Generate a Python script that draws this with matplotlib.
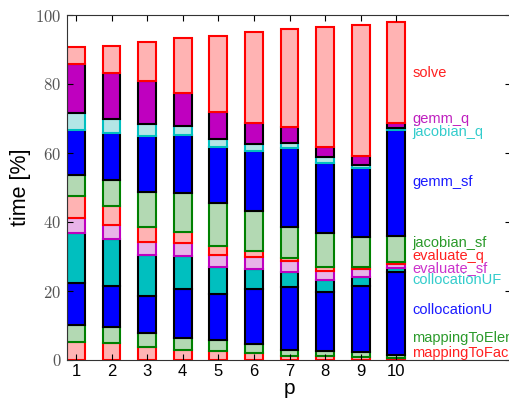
import numpy as np
import matplotlib
matplotlib.use("Agg")
from matplotlib import pyplot as plt
from matplotlib.ticker import FuncFormatter

plt.rcParams["mathtext.fontset"] = "cm"
plt.rcParams["font.family"] = ["Liberation Sans", "DejaVu Sans"]

p = [1, 2, 3, 4, 5, 6, 7, 8, 9, 10]

# cumulative top of each part (percent), bottom to top
mappingToFaces = [5.1, 4.8, 3.9, 2.9, 2.7, 1.9, 1.2, 1.2, 0.8, 0.5]
mappingToElements = [10.1, 9.5, 7.7, 6.5, 5.8, 4.6, 2.9, 2.7, 2.2, 1.4]
collocationU = [22.4, 21.5, 18.6, 20.6, 19.0, 20.5, 21.3, 19.8, 21.5, 25.6]
collocationUF = [36.9, 35.0, 30.4, 30.1, 27.1, 26.4, 25.6, 23.2, 24.0, 26.6]
evaluate_sf = [41.3, 39.1, 34.3, 34.0, 30.4, 29.9, 28.7, 25.9, 26.3, 27.8]
evaluate_q = [47.5, 44.6, 38.5, 37.2, 33.0, 31.6, 29.7, 26.9, 26.9, 28.5]
jacobian_sf = [53.6, 52.2, 48.7, 48.5, 45.4, 43.3, 38.5, 36.9, 35.7, 36.0]
gemm_sf = [66.7, 65.9, 65.0, 65.2, 61.8, 60.7, 61.5, 57.2, 55.6, 66.7]
jacobian_q = [71.5, 70.0, 68.3, 67.8, 64.0, 62.6, 62.8, 58.9, 56.5, 67.3]
gemm_q = [85.8, 83.1, 80.9, 77.3, 72.0, 68.6, 67.4, 61.8, 59.1, 68.6]
solve = [90.8, 91.1, 92.3, 93.4, 94.0, 95.0, 95.8, 96.6, 97.1, 98.1]

names = ["mappingToFaces", "mappingToElements", "collocationU", "collocationUF",
         "evaluate_sf", "evaluate_q", "jacobian_sf", "gemm_sf", "jacobian_q",
         "gemm_q", "solve"]
tops = [mappingToFaces, mappingToElements, collocationU, collocationUF,
        evaluate_sf, evaluate_q, jacobian_sf, gemm_sf, jacobian_q, gemm_q, solve]
label_y = [2.1, 6.3, 14.5, 23.2, 26.6, 30.2, 34.0, 51.7, 66.0, 69.9, 83.3]

light_red = "#ffb3b3"
light_green = "#b3d9b3"
faces = [light_red, light_green, "#0000ff", "#00bfbf", "#e8b3e8", light_red,
         light_green, "#0000ff", "#b3e6e6", "#bf00bf", light_red]
edges = ["#ff0000", "#008000", "black", "black", "#bf00bf", "#ff0000",
         "#008000", "black", "#00bfbf", "black", "#ff0000"]
text_colors = ["#ff2020", "#2a9a2a", "#1a1aff", "#33cccc", "#cc33cc", "#ff2020",
               "#2a9a2a", "#1a1aff", "#33cccc", "#bf20bf", "#ff2020"]

fig = plt.figure(figsize=(5.09, 3.98), dpi=100)
ax = fig.add_axes([67 / 509, 38 / 398, 444 / 509, 345 / 398])

bottom = np.zeros(len(p))
for name, top, fc, ec in zip(names, tops, faces, edges):
    top = np.array(top)
    ax.bar(p, top - bottom, bottom=bottom, width=0.5, color=fc,
           edgecolor=ec, linewidth=1.5)
    bottom = top

for name, y, c in zip(names, label_y, text_colors):
    ax.text(10.45, y, name, color=c, fontsize=10.5, va="center", ha="left")

ax.set_xlim(0.75, 13.22)
ax.set_ylim(0, 100)
ax.set_xticks(p)
ax.set_yticks([0, 20, 40, 60, 80, 100])
ax.yaxis.set_major_formatter(FuncFormatter(lambda v, pos: "$%d$" % v))
ax.tick_params(direction="in", top=True, right=True, length=4)
ax.tick_params(axis="x", labelsize=12, pad=3)
ax.tick_params(axis="y", labelsize=12, pad=4, labelcolor="#555555")
for s in ax.spines.values():
    s.set_color("#333333")
ax.set_xlabel("p", fontsize=15, labelpad=0)
ax.set_ylabel("time [%]", fontsize=15.5, labelpad=3)

fig.savefig("out.png", dpi=100)
